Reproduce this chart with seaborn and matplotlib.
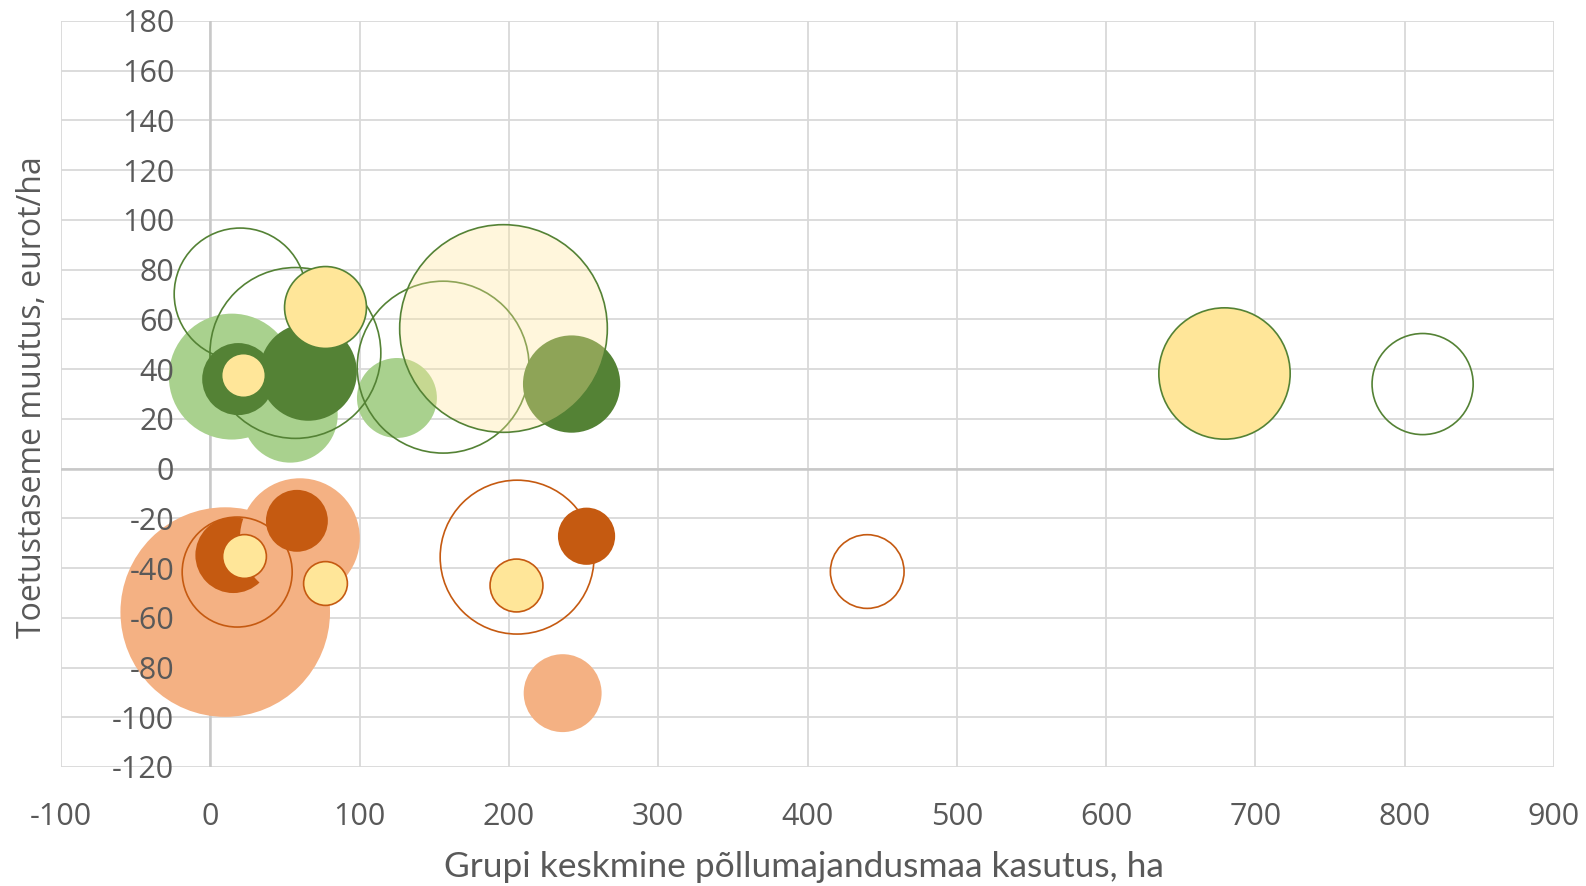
import matplotlib
matplotlib.use("Agg")
import matplotlib.pyplot as plt
import pandas as pd
import seaborn as sns

# Bubble data (draw order matters: later bubbles sit on top)
x_ha = [14.4, 53.5, 125, 20, 57, 156, 812, 18.7, 65.6, 242, 22, 77, 679, 196,
        10, 15.4, 60, 18, 58, 22.8, 77, 205.5, 205, 252, 236, 440]
y_change = [37, 21.5, 28.4, 70.2, 46.5, 40.8, 34, 36, 38.8, 34, 37.6, 65, 38.4, 56.5,
            -57.7, -34.8, -28, -41.6, -21, -35.2, -46, -35.6, -46.9, -27.2, -90.3, -41.4]
bubble_value = [39.7, 22.6, 16, 43.6, 73.1, 74, 25.6, 13, 23.7, 23.7, 4.8, 16.8, 43.2, 108,
                110, 14.4, 36, 30.3, 9.6, 4.8, 4.8, 59.3, 7, 8.2, 15.2, 13.6]
kind = ['light', 'light', 'light', 'open', 'open', 'open', 'open', 'dark', 'dark', 'dark',
        'yellow', 'yellow', 'yellow', 'cream',
        'light', 'dark', 'light', 'open', 'dark', 'yellow', 'yellow', 'open', 'yellow',
        'dark', 'light', 'open']

x_ticks = list(range(-100, 901, 100))
y_ticks = list(range(-120, 181, 20))

df = pd.DataFrame({'x': x_ha, 'y': y_change, 'value': bubble_value, 'kind': kind})

GREEN = {'light': '#A9D18E', 'dark': '#548235', 'edge': '#548235'}
ORANGE = {'light': '#F4B183', 'dark': '#C55A11', 'edge': '#C55A11'}
YELLOW = '#FFE699'
SCALE = 207  # value -> points^2

sns.set_theme(style='white')
plt.rcParams['font.family'] = ['Open Sans', 'DejaVu Sans']
plt.rcParams['axes.unicode_minus'] = False
TXT = '#595959'

fig = plt.figure(figsize=(15.86, 8.86), dpi=100)
ax = fig.add_axes([61 / 1586, 1 - 767 / 886, 1493 / 1586, 746 / 886])

# gridlines drawn by hand so tick labels can sit above the bubbles
for t in x_ticks:
    ax.axvline(t, color='#D9D9D9', linewidth=1.3, zorder=0)
for t in y_ticks:
    ax.axhline(t, color='#D9D9D9', linewidth=1.3, zorder=0)
ax.axvline(0, color='#C8C8C8', linewidth=1.8, zorder=1)
ax.axhline(0, color='#C8C8C8', linewidth=1.8, zorder=1)

for _, r in df.iterrows():
    pal = GREEN if r['y'] > 0 else ORANGE
    k = r['kind']
    if k in ('light', 'dark'):
        fc, ec, lw = pal[k], 'none', 0
    elif k == 'open':
        fc, ec, lw = 'none', pal['edge'], 1.2
    elif k == 'yellow':
        fc, ec, lw = YELLOW, pal['edge'], 1.2
    else:
        fc, ec, lw = (1.0, 0.902, 0.6, 0.34), pal['edge'], 1.2
    sns.scatterplot(x=[r['x']], y=[r['y']], s=r['value'] * SCALE, facecolor=fc,
                    edgecolor=ec, linewidth=lw, ax=ax, legend=False, zorder=2)

ax.set_xlim(-100, 900)
ax.set_ylim(-120, 180)
ax.set_xticks(x_ticks)
ax.set_yticks(y_ticks)
ax.grid(False)
ax.set_axisbelow(False)
for s in ['top', 'right', 'bottom']:
    ax.spines[s].set_visible(False)
ax.spines['left'].set_position(('data', 0))
ax.spines['left'].set_visible(False)

ax.tick_params(axis='y', length=0, pad=26, labelsize=22, labelcolor=TXT)
ax.tick_params(axis='x', length=0, pad=25, labelsize=22, labelcolor=TXT)
ax.set_xlabel('')
ax.set_ylabel('')

fig.text(804 / 1586, 1 - 867 / 886, 'Grupi keskmine põllumajandusmaa kasutus, ha',
         ha='center', va='center', fontsize=25.5, color=TXT, family=['Lato', 'DejaVu Sans'])
fig.text(33 / 1586, 1 - 397 / 886, 'Toetustaseme muutus, eurot/ha',
         ha='center', va='center', rotation=90, fontsize=23, color=TXT)

fig.savefig('out.png', dpi=100)
